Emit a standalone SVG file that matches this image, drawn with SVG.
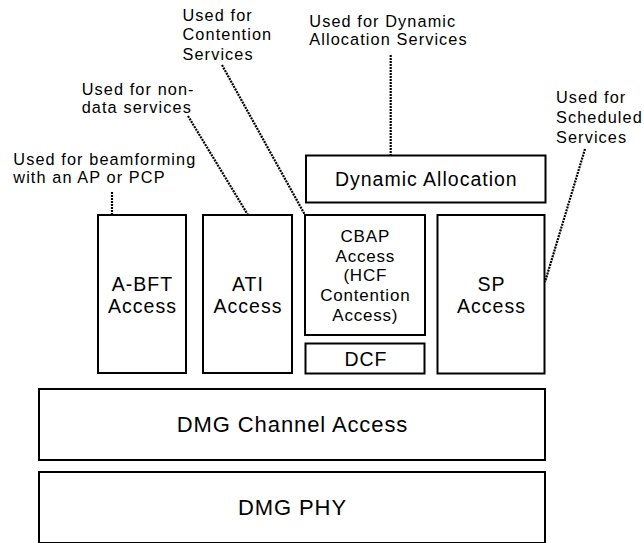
<svg xmlns="http://www.w3.org/2000/svg" width="644" height="543" viewBox="0 0 644 543">
<style>
text{font-family:"Liberation Sans",Arial,sans-serif;fill:#000}
.lbl{font-size:16.3px;letter-spacing:1.1px}
.bx{font-size:19.5px;letter-spacing:1px;text-anchor:middle}
.cb{font-size:17px;letter-spacing:0.8px;text-anchor:middle}
.big{font-size:22px;letter-spacing:0.9px;text-anchor:middle}
.node rect{fill:#fff;stroke:#000;stroke-width:2}
.dot{fill:none;stroke:#000;stroke-width:2.2;stroke-dasharray:2 1}
</style>
<rect width="644" height="543" fill="#fff"/>
<g id="abft" class="node">
<rect x="98" y="215" width="88" height="158"/>
<text class="bx" x="142.5" y="290.7">A-BFT</text>
<text class="bx" x="142.5" y="313.3">Access</text>
</g>
<g id="ati" class="node">
<rect x="203" y="215" width="89" height="158"/>
<text class="bx" x="248" y="290.7">ATI</text>
<text class="bx" x="248" y="313.3">Access</text>
</g>
<g id="cbap" class="node">
<rect x="305" y="215" width="120" height="120"/>
<text class="cb" x="365.3" y="241.7">CBAP</text>
<text class="cb" x="365.3" y="261.5">Access</text>
<text class="cb" x="365.3" y="281.3">(HCF</text>
<text class="cb" x="365.3" y="301.2">Contention</text>
<text class="cb" x="365.3" y="320.7">Access)</text>
</g>
<g id="dcf" class="node">
<rect x="305.5" y="343.5" width="119" height="30"/>
<text class="bx" x="366" y="365.7">DCF</text>
</g>
<g id="sp" class="node">
<rect x="437.5" y="215" width="107" height="158.5"/>
<text class="bx" x="491.5" y="290.7">SP</text>
<text class="bx" x="491.5" y="313.3">Access</text>
</g>
<g id="dynalloc" class="node">
<rect x="306" y="155.5" width="239.5" height="47"/>
<text class="bx" x="426.3" y="186">Dynamic Allocation</text>
</g>
<g id="dmgca" class="node">
<rect x="39" y="389" width="506" height="71"/>
<text class="big" x="292.5" y="432">DMG Channel Access</text>
</g>
<g id="dmgphy" class="node">
<rect x="39" y="472" width="506" height="71"/>
<text class="big" x="292.5" y="515">DMG PHY</text>
</g>
<g id="labels">
<text class="lbl" x="13.3" y="164.5">Used for beamforming</text>
<text class="lbl" x="13.3" y="182.5">with an AP or PCP</text>
<text class="lbl" x="81.7" y="95">Used for non-</text>
<text class="lbl" x="81.7" y="113.3">data services</text>
<text class="lbl" x="182.5" y="20.5">Used for</text>
<text class="lbl" x="182.5" y="40">Contention</text>
<text class="lbl" x="182.5" y="59.5">Services</text>
<text class="lbl" x="309.3" y="26.7">Used for Dynamic</text>
<text class="lbl" x="309.3" y="45">Allocation Services</text>
<text class="lbl" x="556" y="103.3">Used for</text>
<text class="lbl" x="556" y="123.3">Scheduled</text>
<text class="lbl" x="556" y="143.3">Services</text>
</g>
<g id="connectors">
<polyline class="dot" points="112,192 112,215 155,215"/>
<line class="dot" x1="188" y1="116" x2="248" y2="215"/>
<line class="dot" x1="222" y1="65" x2="305" y2="215"/>
<line class="dot" x1="390.7" y1="55" x2="390.7" y2="155"/>
<line class="dot" x1="585" y1="149" x2="545" y2="282"/>
</g>
</svg>
